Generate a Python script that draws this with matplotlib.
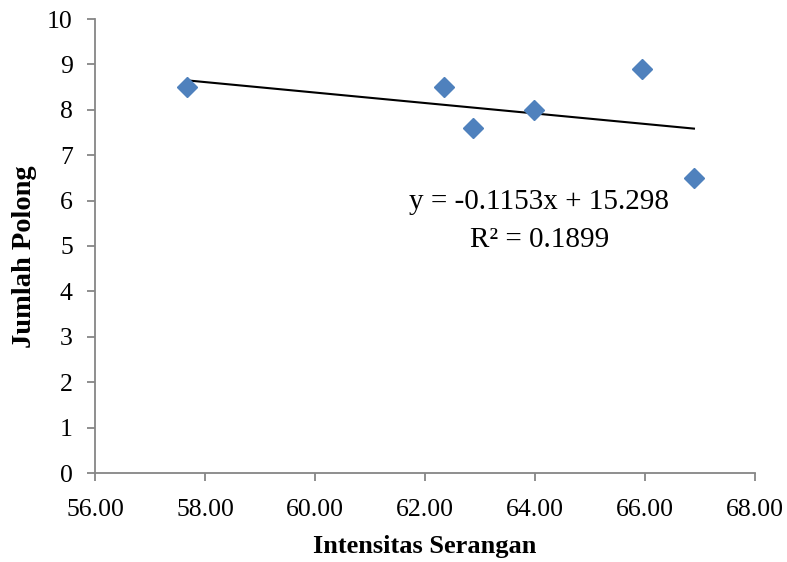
import matplotlib
matplotlib.use("Agg")
import matplotlib.pyplot as plt
import numpy as np

intensitas = [57.67, 62.35, 62.87, 63.98, 65.95, 66.89]
jumlah_polong = [8.5, 8.5, 7.6, 8.0, 8.9, 6.5]
slope = -0.1153
intercept = 15.298
r2 = 0.1899
x_ticks = [56, 58, 60, 62, 64, 66, 68]
y_ticks = list(range(0, 11))

plt.rcParams['font.family'] = ['Liberation Serif', 'DejaVu Serif']

fig = plt.figure(figsize=(7.87, 5.62), dpi=100)
ax = fig.add_axes([95/787, 1 - 473/562, 660/787, 454/562])

xs = np.array([min(intensitas), max(intensitas)])
ax.plot(xs, slope * xs + intercept, color='black', lw=1.5, zorder=2)
ax.plot(intensitas, jumlah_polong, linestyle='none', marker='D', markersize=10.2,
        color='#4F81BD', markeredgecolor='#4F81BD', zorder=3)

ax.set_xlim(56, 68)
ax.set_ylim(0, 10)
ax.set_xticks(x_ticks)
ax.set_xticklabels([f"{v:.2f}" for v in x_ticks])
ax.set_yticks(y_ticks)
ax.set_yticklabels([str(v) for v in y_ticks])

for s in ['top', 'right']:
    ax.spines[s].set_visible(False)
for s in ['left', 'bottom']:
    ax.spines[s].set_color('#868686')
    ax.spines[s].set_linewidth(1.3)
ax.tick_params(axis='both', direction='out', length=6, width=1.3, color='#868686',
               labelsize=18.5, labelcolor='black')
ax.tick_params(axis='x', pad=12.5)
ax.tick_params(axis='y', pad=10)

ax.set_xlabel('Intensitas Serangan', fontsize=19, fontweight='bold', labelpad=10)
ax.set_ylabel('Jumlah Polong', fontsize=20.5, fontweight='bold')
ax.yaxis.set_label_coords(-0.088, 0.476)

ax.text(0.673, 0.596, f"y = {slope}x + {intercept}", transform=ax.transAxes,
        ha='center', va='center', fontsize=21)
ax.text(0.673, 0.514, f"R² = {r2}", transform=ax.transAxes,
        ha='center', va='center', fontsize=21)

fig.savefig('out.png', dpi=100)
